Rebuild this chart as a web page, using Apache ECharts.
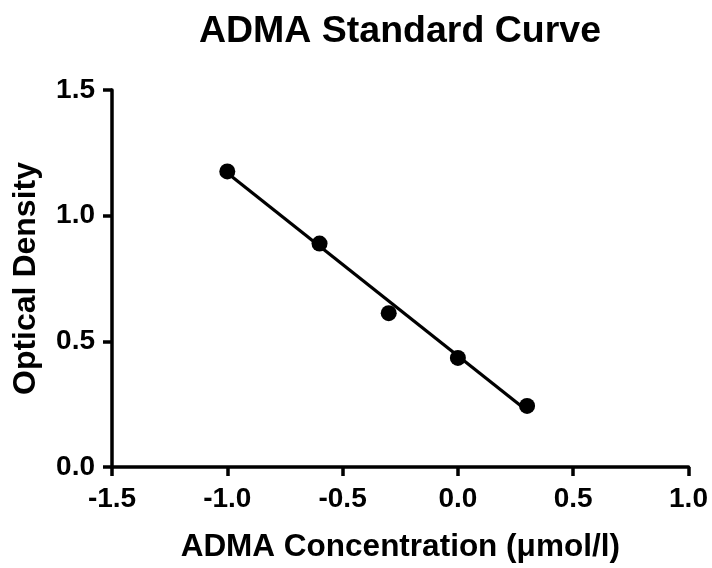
<!DOCTYPE html>
<html>
<head>
<meta charset="utf-8">
<script src="https://cdn.jsdelivr.net/npm/echarts@6/dist/echarts.min.js"></script>
<style>html,body{margin:0;padding:0;background:#fff}#c{width:712px;height:568px}</style>
</head>
<body>
<div id="c"></div>
<script>
const concentration = [-1.0, -0.6, -0.3, 0.0, 0.3];
const opticalDensity = [1.176, 0.889, 0.612, 0.434, 0.243];
const fitX = [-1.0, 0.3];
const fitY = [1.17, 0.224];
const xTicks = [-1.5, -1.0, -0.5, 0.0, 0.5, 1.0];
const yTicks = [0.0, 0.5, 1.0, 1.5];

const FONT = 'Liberation Sans, Arial, Helvetica, sans-serif';
const chart = echarts.init(document.getElementById('c'), null, {renderer: 'canvas'});
const axisCommon = {
  axisLine: {show: true, onZero: false, lineStyle: {color: '#000', width: 3.5}},
  axisTick: {show: true, inside: false, length: 9, lineStyle: {color: '#000', width: 3.5}},
  splitLine: {show: false},
  axisLabel: {color: '#000', fontFamily: FONT, fontWeight: 'bold', fontSize: 28,
    formatter: v => v.toFixed(1)},
  nameLocation: 'middle',
  nameTextStyle: {color: '#000', fontFamily: FONT, fontWeight: 'bold', fontSize: 31.5}
};
chart.setOption({
  animation: false,
  title: {
    text: 'ADMA Standard Curve', left: 395, top: 8, textAlign: 'center',
    textStyle: {color: '#000', fontFamily: FONT, fontWeight: 'bold', fontSize: 37.5}
  },
  grid: {left: 112, right: 23.5, top: 90, bottom: 95, containLabel: false},
  xAxis: Object.assign({}, axisCommon, {
    type: 'value', min: xTicks[0], max: xTicks[xTicks.length - 1], interval: 0.5,
    name: 'ADMA Concentration (\u03bcmol/l)', nameGap: 64,
    axisLabel: Object.assign({}, axisCommon.axisLabel, {margin: 18})
  }),
  yAxis: Object.assign({}, axisCommon, {
    type: 'value', min: yTicks[0], max: yTicks[yTicks.length - 1], interval: 0.5,
    name: 'Optical Density', nameGap: 70,
    nameTextStyle: Object.assign({}, axisCommon.nameTextStyle, {fontSize: 32}),
    axisLabel: Object.assign({}, axisCommon.axisLabel, {margin: 17})
  }),
  series: [
    {
      type: 'line', data: fitX.map((x, i) => [x, fitY[i]]), showSymbol: false,
      lineStyle: {color: '#000', width: 3.2}, silent: true, z: 2
    },
    {
      type: 'scatter', data: concentration.map((x, i) => [x, opticalDensity[i]]),
      symbol: 'circle', symbolSize: 16, itemStyle: {color: '#000', opacity: 1}, z: 3
    }
  ]
});
</script>
</body>
</html>
